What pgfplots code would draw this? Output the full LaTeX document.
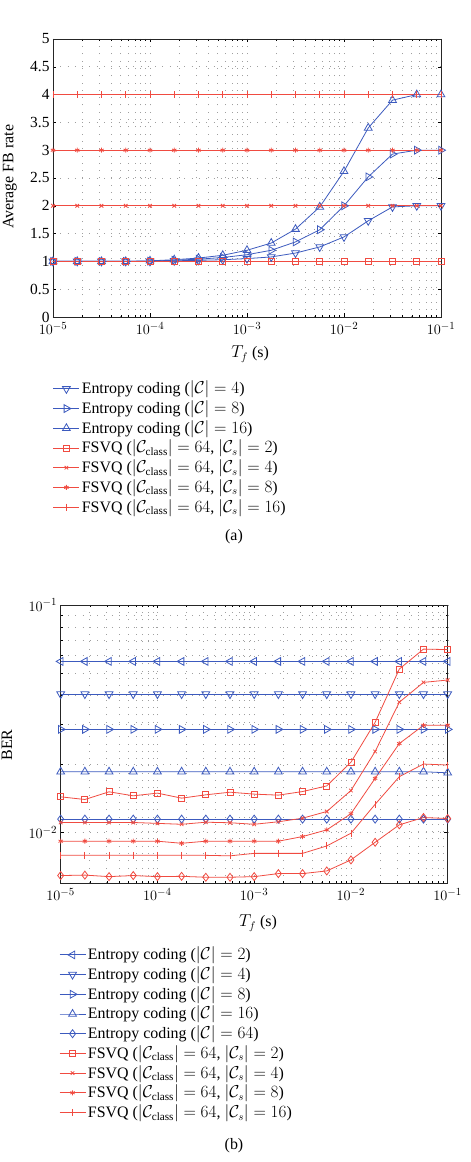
\documentclass[border=0pt]{standalone}
\usepackage{pgfplots}
\pgfplotsset{compat=1.18}
\usepackage{pgfplotstable}
\usepackage{fontspec}
\setmainfont{Liberation Serif}
\definecolor{eblue}{RGB}{60,90,190}
\definecolor{fred}{RGB}{240,75,65}

\pgfplotstableread{
x        e4   e8    e16  f2 f4 f8 f16
1e-5     1    1     1    1  2  3  4
1.778e-5 1    1     1    1  2  3  4
3.162e-5 1    1     1    1  2  3  4
5.623e-5 1    1     1    1  2  3  4
1e-4     1    1.005 1.01 1  2  3  4
1.778e-4 1.01 1.02  1.03 1  2  3  4
3.162e-4 1.02 1.04  1.06 1  2  3  4
5.623e-4 1.03 1.07  1.11 1  2  3  4
1e-3     1.05 1.12  1.20 1  2  3  4
1.778e-3 1.08 1.20  1.33 1  2  3  4
3.162e-3 1.15 1.35  1.58 1  2  3  4
5.623e-3 1.26 1.57  1.98 1  2  3  4
1e-2     1.44 2.00  2.62 1  2  3  4
1.778e-2 1.73 2.52  3.40 1  2  3  4
3.162e-2 1.98 2.93  3.90 1  2  3  4
5.623e-2 2.00 3.00  4.00 1  2  3  4
1e-1     2.00 3.00  4.00 1  2  3  4
}\tabA

\pgfplotstableread{
x        e2     e4     e8     e16    e64     f2      f4      f8      f16     fd
1e-5     0.0565 0.0406 0.0284 0.0185 0.01145 0.01435 0.01107 0.00916 0.00794 0.00647
1.778e-5 0.0565 0.0406 0.0284 0.0185 0.01145 0.01397 0.01107 0.00916 0.00794 0.00650
3.162e-5 0.0565 0.0406 0.0284 0.0185 0.01145 0.01510 0.01107 0.00916 0.00794 0.00640
5.623e-5 0.0565 0.0406 0.0284 0.0185 0.01145 0.01450 0.01107 0.00916 0.00794 0.00647
1e-4     0.0565 0.0406 0.0284 0.0185 0.01145 0.01490 0.01097 0.00916 0.00794 0.00640
1.778e-4 0.0565 0.0406 0.0284 0.0185 0.01145 0.01416 0.01087 0.00897 0.00794 0.00642
3.162e-4 0.0565 0.0406 0.0284 0.0185 0.01145 0.01465 0.01110 0.00916 0.00794 0.00636
5.623e-4 0.0565 0.0406 0.0284 0.0185 0.01145 0.01504 0.01104 0.00916 0.00790 0.00636
1e-3     0.0565 0.0406 0.0284 0.0185 0.01145 0.01475 0.01087 0.00916 0.00810 0.00640
1.778e-3 0.0565 0.0406 0.0284 0.0185 0.01145 0.01460 0.01115 0.00916 0.00810 0.00660
3.162e-3 0.0565 0.0406 0.0284 0.0185 0.01145 0.01514 0.01156 0.00960 0.00810 0.00660
5.623e-3 0.0565 0.0406 0.0284 0.0185 0.01145 0.01603 0.01237 0.01027 0.00873 0.00678
1e-2     0.0565 0.0406 0.0284 0.0185 0.01145 0.02037 0.01530 0.01210 0.00993 0.00758
1.778e-2 0.0565 0.0406 0.0284 0.0185 0.01145 0.03050 0.02270 0.01730 0.01330 0.00906
3.162e-2 0.0565 0.0406 0.0284 0.0185 0.01145 0.05230 0.03740 0.02460 0.01760 0.01081
5.623e-2 0.0565 0.0406 0.0284 0.0185 0.01145 0.06400 0.04570 0.02960 0.02000 0.01164
1e-1     0.0565 0.0406 0.0284 0.0183 0.01145 0.06370 0.04680 0.02960 0.01980 0.01152
}\tabB

\pgfplotsset{
  every axis/.append style={
    scale only axis,
    grid=both,
    major grid style={gray!75, line width=0.8bp, dash pattern=on 0.8bp off 6.5bp},
    minor grid style={gray!75, line width=0.8bp, dash pattern=on 0.8bp off 6.5bp},
    tick align=inside,
    major tick length=3.5bp, minor tick length=2bp,
    axis line style={black!85, line width=0.7pt},
    tick style={black, line width=0.5pt},
    font=\fontsize{16}{19}\selectfont,
    tick label style={font=\fontsize{15.5}{18}\selectfont},
    xticklabel style={yshift=-2bp},
    every axis plot/.append style={line width=0.8pt},
    legend cell align=left,
    legend style={draw=none, fill=none, inner sep=0pt, outer sep=0pt,
      nodes={inner sep=0pt, text height=11bp, text depth=4bp},
      row sep=4.7bp,
      /tikz/every odd column/.append style={column sep=2bp},
      font=\fontsize{16}{19}\selectfont},
  },
  legend image code/.code={\draw[mark repeat=2,mark phase=2,yshift=1.5bp,#1] plot coordinates {(0bp,0bp) (13bp,0bp) (26bp,0bp)};},
  ebl/.style={eblue, mark options={solid, eblue}},
  frd/.style={fred, mark options={solid, fred}},
}

\begin{document}
\begin{tikzpicture}
\useasboundingbox (0bp,0bp) rectangle (471bp,1162bp);

% ---------------- (a)
\begin{axis}[
  xmode=log, xmin=1e-5, xmax=1e-1,
  xtick={1e-5,1e-4,1e-3,1e-2,1e-1},
  at={(53bp,845bp)}, anchor=south west,
  width=388bp, height=278bp,
  ymin=0, ymax=5, ytick={0,0.5,...,5},
  yticklabels={0,0.5,1,1.5,2,2.5,3,3.5,4,4.5,5},
  xlabel={$T_f$ (s)},
  xlabel style={at={(axis description cs:0.508,-0.133)}, anchor=center},
  ylabel={Average FB rate},
  ylabel style={at={(axis description cs:-0.111,0.504)}, anchor=center},
  legend style={at={(0,-0.237)}, anchor=north west},
]
\addplot[ebl, mark=triangle, mark size=4.5bp, mark options={rotate=180}] table[x=x,y=e4]{\tabA};
\addlegendentry{Entropy coding ($|\mathcal{C}| = 4$)}
\addplot[ebl, mark=triangle, mark size=4.5bp, mark options={rotate=270}] table[x=x,y=e8]{\tabA};
\addlegendentry{Entropy coding ($|\mathcal{C}| = 8$)}
\addplot[ebl, mark=triangle, mark size=4.5bp] table[x=x,y=e16]{\tabA};
\addlegendentry{Entropy coding ($|\mathcal{C}| = 16$)}
\addplot[frd, mark=square, mark size=3bp] table[x=x,y=f2]{\tabA};
\addlegendentry{FSVQ ($|\mathcal{C}_{\mathrm{class}}| = 64$, $|\mathcal{C}_s| = 2$)}
\addplot[frd, mark=x, mark size=2.5bp] table[x=x,y=f4]{\tabA};
\addlegendentry{FSVQ ($|\mathcal{C}_{\mathrm{class}}| = 64$, $|\mathcal{C}_s| = 4$)}
\addplot[frd, mark=asterisk, mark size=2.5bp] table[x=x,y=f8]{\tabA};
\addlegendentry{FSVQ ($|\mathcal{C}_{\mathrm{class}}| = 64$, $|\mathcal{C}_s| = 8$)}
\addplot[frd, mark=|, mark size=3.5bp] table[x=x,y=f16]{\tabA};
\addlegendentry{FSVQ ($|\mathcal{C}_{\mathrm{class}}| = 64$, $|\mathcal{C}_s| = 16$)}
\end{axis}
\node[font=\fontsize{16}{19}\selectfont] at (234bp,625bp) {(a)};

% ---------------- (b)
\begin{axis}[
  xmode=log, xmin=1e-5, xmax=1e-1,
  xtick={1e-5,1e-4,1e-3,1e-2,1e-1},
  at={(60.7bp,279bp)}, anchor=south west,
  width=387bp, height=278bp,
  ymode=log, ymin=0.006, ymax=0.1,
  ytick={0.01,0.1},
  xlabel={$T_f$ (s)},
  xlabel style={at={(axis description cs:0.51,-0.144)}, anchor=center},
  ylabel={BER},
  ylabel style={at={(axis description cs:-0.139,0.496)}, anchor=center},
  legend style={at={(-0.004,-0.237)}, anchor=north west},
]
\addplot[ebl, mark=triangle, mark size=4.5bp, mark options={rotate=90}] table[x=x,y=e2]{\tabB};
\addlegendentry{Entropy coding ($|\mathcal{C}| = 2$)}
\addplot[ebl, mark=triangle, mark size=4.5bp, mark options={rotate=180}] table[x=x,y=e4]{\tabB};
\addlegendentry{Entropy coding ($|\mathcal{C}| = 4$)}
\addplot[ebl, mark=triangle, mark size=4.5bp, mark options={rotate=270}] table[x=x,y=e8]{\tabB};
\addlegendentry{Entropy coding ($|\mathcal{C}| = 8$)}
\addplot[ebl, mark=triangle, mark size=4.5bp] table[x=x,y=e16]{\tabB};
\addlegendentry{Entropy coding ($|\mathcal{C}| = 16$)}
\addplot[ebl, mark=diamond, mark size=4bp] table[x=x,y=e64]{\tabB};
\addlegendentry{Entropy coding ($|\mathcal{C}| = 64$)}
\addplot[frd, mark=square, mark size=3bp] table[x=x,y=f2]{\tabB};
\addlegendentry{FSVQ ($|\mathcal{C}_{\mathrm{class}}| = 64$, $|\mathcal{C}_s| = 2$)}
\addplot[frd, mark=x, mark size=2.5bp] table[x=x,y=f4]{\tabB};
\addlegendentry{FSVQ ($|\mathcal{C}_{\mathrm{class}}| = 64$, $|\mathcal{C}_s| = 4$)}
\addplot[frd, mark=asterisk, mark size=2.5bp] table[x=x,y=f8]{\tabB};
\addlegendentry{FSVQ ($|\mathcal{C}_{\mathrm{class}}| = 64$, $|\mathcal{C}_s| = 8$)}
\addplot[frd, mark=|, mark size=3.5bp] table[x=x,y=f16]{\tabB};
\addlegendentry{FSVQ ($|\mathcal{C}_{\mathrm{class}}| = 64$, $|\mathcal{C}_s| = 16$)}
\addplot[frd, mark=diamond, mark size=4bp, forget plot] table[x=x,y=fd]{\tabB};
\end{axis}
\node[font=\fontsize{16}{19}\selectfont] at (234bp,16bp) {(b)};
\end{tikzpicture}
\end{document}
